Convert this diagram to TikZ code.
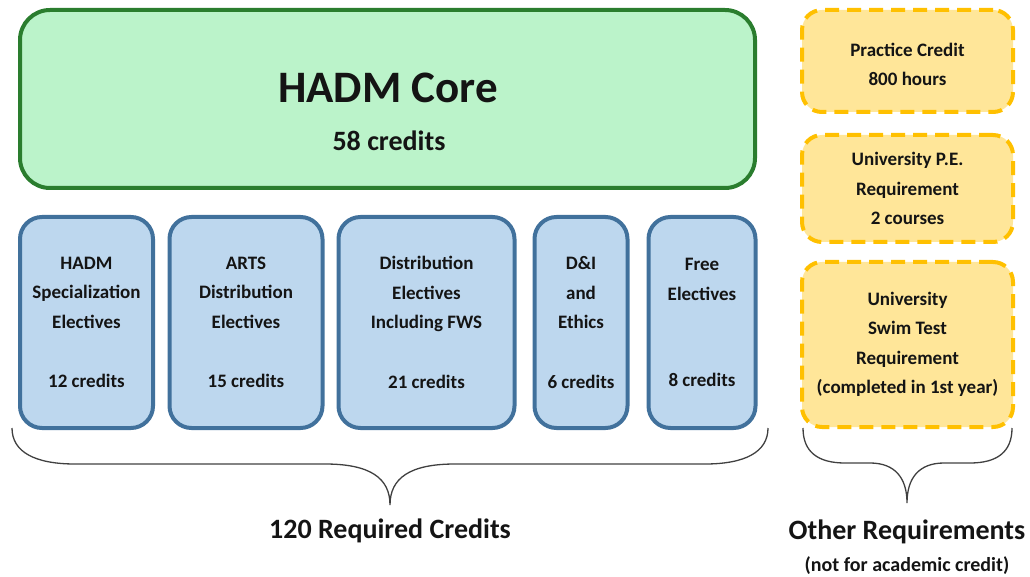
\documentclass[tikz,border=0pt]{standalone}
\usepackage{fontspec}
\setmainfont{Carlito}
\definecolor{gfill}{HTML}{BBF3CA}
\definecolor{gline}{HTML}{2A7D2E}
\definecolor{bfill}{HTML}{BDD7EE}
\definecolor{bline}{HTML}{41719C}
\definecolor{ofill}{HTML}{FFE699}
\definecolor{oline}{HTML}{FFC000}
\definecolor{txt}{HTML}{141414}
\definecolor{brc}{HTML}{404040}
\begin{document}
\begin{tikzpicture}[x=1pt,y=-1pt,
  corebox/.style={draw=gline, fill=gfill, line width=4pt, rounded corners=30pt, inner sep=0pt},
  bluebox/.style={draw=bline, fill=bfill, line width=4pt, rounded corners=22pt, inner sep=0pt,
     align=center, font=\fontsize{19}{29.5}\selectfont\bfseries, text=txt},
  orangebox/.style={draw=oline, fill=ofill, line width=4pt, rounded corners=20pt, inner sep=0pt,
     dash pattern=on 14pt off 8pt, align=center, font=\fontsize{19}{29.5}\selectfont\bfseries, text=txt},
  bracestyle/.style={draw=brc, line width=1.3pt},
  lbl/.style={font=\fontsize{28}{32}\selectfont\bfseries, text=txt, inner sep=0pt},
  sublbl/.style={font=\fontsize{19.5}{22}\selectfont\bfseries, text=txt, inner sep=0pt}]
\useasboundingbox (0,0) rectangle (1030,577);

% core box
\node[corebox, minimum width=735pt, minimum height=178pt] (core) at (387.5,99) {};
\node[lbl, font=\fontsize{45}{50}\selectfont\bfseries] (coretitle) at (388,88) {HADM Core};
\node[lbl] (corecred) at (389,141) {58 credits};

% blue boxes
\node[bluebox, minimum width=133pt, minimum height=211pt] (b1) at (86.5,322.5)
  {HADM\\Specialization\\Electives\\[30pt]12 credits};
\node[bluebox, minimum width=153pt, minimum height=211pt] (b2) at (246,322.5)
  {ARTS\\Distribution\\Electives\\[30pt]15 credits};
\node[bluebox, minimum width=176pt, minimum height=211pt] (b3) at (426.5,322.5)
  {Distribution\\Electives\\Including FWS\\[30pt]21 credits};
\node[bluebox, minimum width=93pt, minimum height=211pt] (b4) at (581,322.5)
  {D\&I\\and\\Ethics\\[30pt]6 credits};
\node[bluebox, minimum width=107pt, minimum height=211pt] (b5) at (702,322.5)
  {Free\\Electives\\[57pt]8 credits};

% orange boxes
\node[orangebox, minimum width=211pt, minimum height=102pt] (o1) at (907.5,61)
  {\rule{0pt}{20pt}Practice Credit\\800 hours};
\node[orangebox, minimum width=211pt, minimum height=107pt] (o2) at (907.5,188.5)
  {University P.E.\\Requirement\\2 courses};
\node[orangebox, minimum width=211pt, minimum height=165pt] (o3) at (907.5,344.5)
  {University\\Swim Test\\Requirement\\(completed in 1st year)};

% braces
\coordinate (lbL) at (12,428);
\coordinate (lbR) at (768,428);
\coordinate (lbT) at (390,505);
\draw[bracestyle] (lbL) .. controls (12,452) and (35,464) .. (75,464) -- (325,464)
  .. controls (370,464) and (390,478) .. (lbT)
  .. controls (390,478) and (410,464) .. (455,464) -- (705,464)
  .. controls (745,464) and (768,452) .. (lbR);
\coordinate (rbL) at (803,428);
\coordinate (rbR) at (1012,428);
\coordinate (rbT) at (907,503);
\draw[bracestyle] (rbL) .. controls (803,452) and (818,463) .. (845,463) -- (870,463)
  .. controls (895,463) and (907,478) .. (rbT)
  .. controls (907,478) and (919,463) .. (944,463) -- (970,463)
  .. controls (997,463) and (1012,452) .. (rbR);

\node[lbl] (req) at (390,531) {120 Required Credits};
\node[lbl] (other) at (907,532) {Other Requirements};
\node[sublbl, font=\fontsize{20}{22}\selectfont\bfseries] (othersub) at (907,566) {(not for academic credit)};
\end{tikzpicture}
\end{document}
